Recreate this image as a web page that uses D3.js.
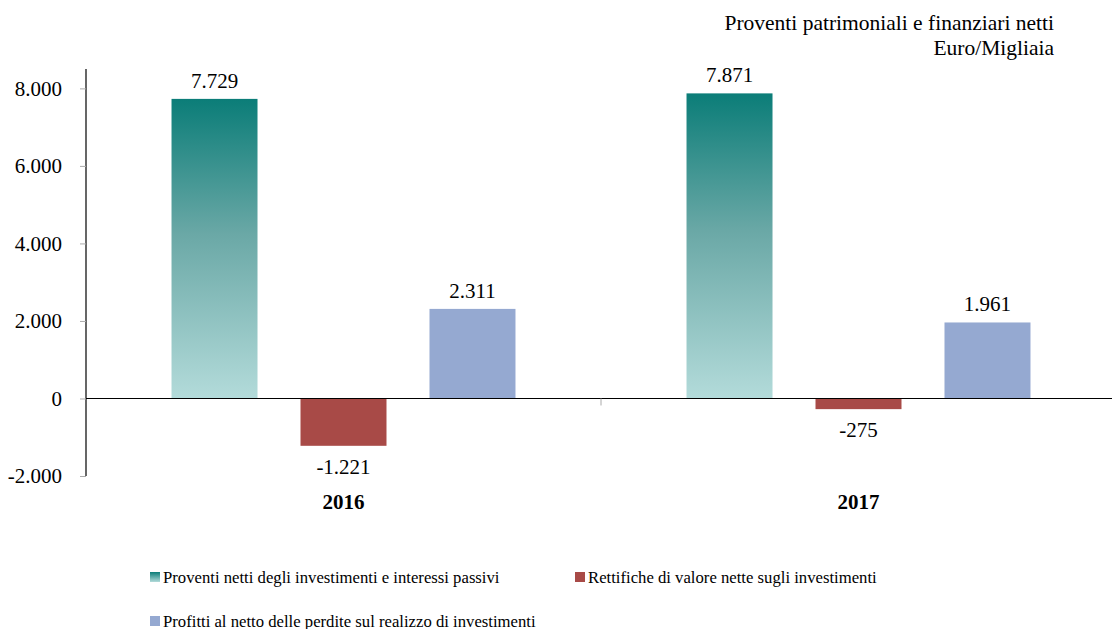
<!DOCTYPE html>
<html>
<head>
<meta charset="utf-8">
<script src="https://cdn.jsdelivr.net/npm/d3@7"></script>
<style>
  html, body { margin: 0; padding: 0; background: #fff; }
  svg { display: block; font-family: "Liberation Serif", "Times New Roman", serif; }
</style>
</head>
<body>
<svg id="chart" width="1112" height="629"></svg>
<script>
// Proventi patrimoniali e finanziari netti (Euro/Migliaia)
const years = ["2016", "2017"];
const seriesNames = [
  "Proventi netti degli investimenti e interessi passivi",
  "Rettifiche di valore nette sugli investimenti",
  "Profitti al netto delle perdite sul realizzo di investimenti"
];
const proventiNetti = [7729, 7871];
const rettifiche = [-1221, -275];
const profittiRealizzo = [2311, 1961];
const yTicks = [-2000, 0, 2000, 4000, 6000, 8000];

const seriesValues = [proventiNetti, rettifiche, profittiRealizzo];
const fmt = v => {
  const s = d3.format(",")(Math.abs(v)).replace(/,/g, ".");
  return (v < 0 ? "-" : "") + s;
};
const serif = "Liberation Serif, Times New Roman, serif";

const svg = d3.select("#chart");

const x0 = d3.scaleBand().domain(years).range([86, 1116]).paddingInner(0).paddingOuter(0);
const x1 = d3.scaleBand().domain(d3.range(seriesNames.length))
  .range([0, x0.bandwidth()]).paddingInner(1 / 3).paddingOuter(0.663);
const y = d3.scaleLinear().domain([-2000, 8500]).range([476, 69]);

// vertical teal gradient for the first series
const defs = svg.append("defs");
const grad = defs.append("linearGradient").attr("id", "tealGrad")
  .attr("x1", 0).attr("y1", 0).attr("x2", 0).attr("y2", 1);
grad.append("stop").attr("offset", "0%").attr("stop-color", "#0b7d78");
grad.append("stop").attr("offset", "45%").attr("stop-color", "#6aa8a6");
grad.append("stop").attr("offset", "100%").attr("stop-color", "#b3dbda");

const fills = ["url(#tealGrad)", "#a84a47", "#95a9d1"];

// y axis
const yAxis = d3.axisLeft(y).tickValues(yTicks).tickSize(6).tickPadding(18)
  .tickFormat(fmt);
const gy = svg.append("g").attr("transform", "translate(86,0)").call(yAxis)
  .attr("font-family", serif);
gy.select(".domain").attr("d", `M0,${y(8500)}V${y(-2000)}`).attr("stroke", "#000").attr("stroke-width", 1.2);
gy.selectAll(".tick line").attr("stroke", "#aaa");
gy.selectAll(".tick text").attr("font-size", 21).attr("fill", "#000");

// bars with value labels
years.forEach((yr, i) => {
  seriesValues.forEach((vals, s) => {
    const v = vals[i];
    const bx = x0(yr) + x1(s);
    svg.append("rect")
      .attr("x", bx)
      .attr("y", y(Math.max(0, v)))
      .attr("width", x1.bandwidth())
      .attr("height", Math.abs(y(v) - y(0)))
      .attr("fill", fills[s]);
    svg.append("text")
      .attr("x", bx + x1.bandwidth() / 2)
      .attr("y", v >= 0 ? y(v) - 11 : y(v) + 28)
      .attr("text-anchor", "middle")
      .attr("font-size", 21)
      .text(fmt(v));
  });
});

// zero line and category separators
svg.append("line").attr("x1", 86).attr("x2", 1112)
  .attr("y1", y(0)).attr("y2", y(0)).attr("stroke", "#000").attr("stroke-width", 1.2);
years.slice(1).forEach(yr => {
  svg.append("line").attr("x1", x0(yr)).attr("x2", x0(yr))
    .attr("y1", y(0)).attr("y2", y(0) + 7).attr("stroke", "#aaa");
});

// category labels
svg.append("g").selectAll("text").data(years).join("text")
  .attr("x", d => x0(d) + x0.bandwidth() / 2)
  .attr("y", 509)
  .attr("text-anchor", "middle")
  .attr("font-size", 21)
  .attr("font-weight", "bold")
  .text(d => d);

// title
const title = svg.append("text").attr("text-anchor", "end").attr("font-size", 21.5);
title.append("tspan").attr("x", 1054).attr("y", 30).text("Proventi patrimoniali e finanziari netti");
title.append("tspan").attr("x", 1054).attr("y", 55).text("Euro/Migliaia");

// legend
const legendPos = [[150, 577], [575, 577], [150, 621]];
const lg = defs.append("linearGradient").attr("id", "legendGrad")
  .attr("x1", 0).attr("y1", 0).attr("x2", 0).attr("y2", 1);
lg.append("stop").attr("offset", "0%").attr("stop-color", "#0b7d78");
lg.append("stop").attr("offset", "100%").attr("stop-color", "#b3dbda");
const legendFills = ["url(#legendGrad)", fills[1], fills[2]];

const legend = svg.append("g").selectAll("g").data(seriesNames).join("g")
  .attr("transform", (d, i) => `translate(${legendPos[i][0]},${legendPos[i][1]})`);
legend.append("rect").attr("x", 0).attr("y", -5).attr("width", 10).attr("height", 10)
  .attr("fill", (d, i) => legendFills[i]);
legend.append("text").attr("x", 13).attr("y", 5.5).attr("font-size", 16.7).text(d => d);
</script>
</body>
</html>
